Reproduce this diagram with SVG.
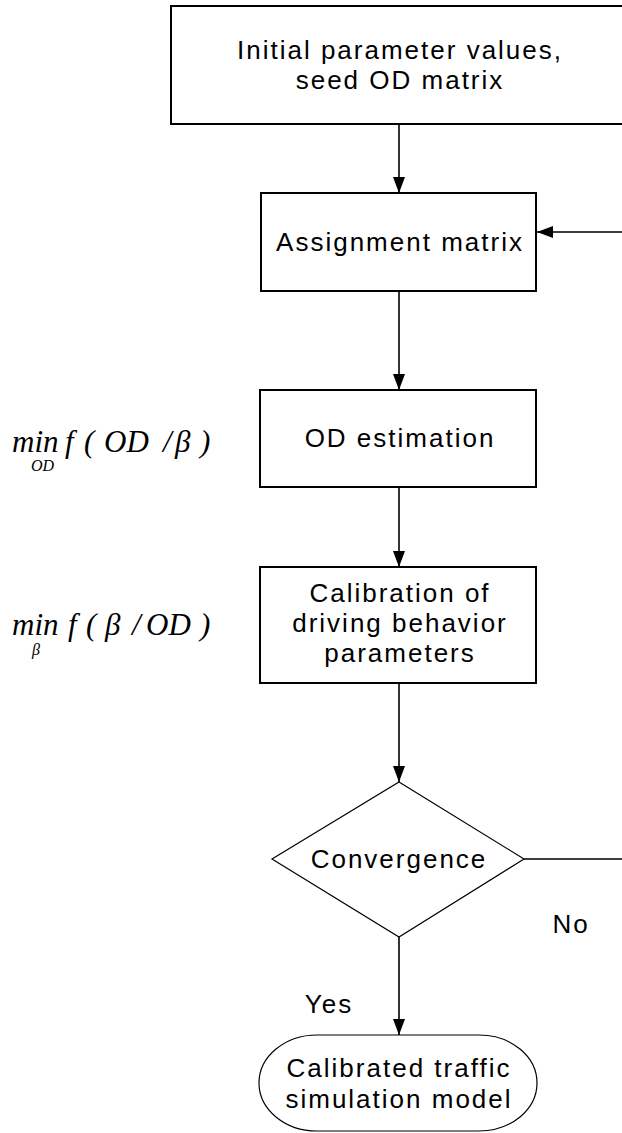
<svg xmlns="http://www.w3.org/2000/svg" width="622" height="1133" viewBox="0 0 622 1133">
  <style>
    .box { fill: #fff; stroke: #000; stroke-width: 2; }
    .thin { fill: #fff; stroke: #000; stroke-width: 1.2; }
    .lbl { font-family: "Liberation Sans", Arial, sans-serif; font-size: 26px; letter-spacing: 2px; fill: #000; text-anchor: middle; }
    .math { font-family: "Liberation Serif", "Times New Roman", serif; font-style: italic; font-size: 31px; fill: #000; }
    .sub { font-family: "Liberation Serif", "Times New Roman", serif; font-style: italic; font-size: 16px; fill: #000; }
    .conn { fill: none; stroke: #000; stroke-width: 1.6; }
  </style>
  <defs>
    <marker id="arrow" markerUnits="userSpaceOnUse" markerWidth="18" markerHeight="12" refX="16" refY="6" orient="auto">
      <path d="M0,0 L16,6 L0,12 Z" fill="#000"/>
    </marker>
  </defs>
  <rect width="622" height="1133" fill="#fff"/>

  <g id="connectors">
    <line class="conn" x1="399" y1="124" x2="399" y2="193" marker-end="url(#arrow)"/>
    <line class="conn" x1="399" y1="291" x2="399" y2="390" marker-end="url(#arrow)"/>
    <line class="conn" x1="399" y1="487" x2="399" y2="567" marker-end="url(#arrow)"/>
    <line class="conn" x1="399" y1="683" x2="399" y2="782" marker-end="url(#arrow)"/>
    <line class="conn" x1="399" y1="937" x2="399" y2="1035" marker-end="url(#arrow)"/>
    <path class="conn" d="M524,859 H640 V232 H537" marker-end="url(#arrow)"/>
  </g>

  <g id="start">
    <rect class="box" x="171" y="6" width="470" height="118"/>
    <text class="lbl" x="400" y="59">Initial parameter values,</text>
    <text class="lbl" x="400" y="89">seed OD matrix</text>
  </g>

  <g id="assignment">
    <rect class="box" x="261" y="193" width="275" height="98"/>
    <text class="lbl" x="400" y="251">Assignment matrix</text>
  </g>

  <g id="od-estimation">
    <rect class="box" x="260" y="390" width="276" height="97"/>
    <text class="lbl" x="400" y="447">OD estimation</text>
  </g>

  <g id="calibration">
    <rect class="box" x="260" y="567" width="276" height="116"/>
    <text class="lbl" x="400" y="602">Calibration of</text>
    <text class="lbl" x="400" y="632">driving behavior</text>
    <text class="lbl" x="400" y="662">parameters</text>
  </g>

  <g id="convergence">
    <polygon class="thin" points="399,782 524,859 399,937 272,859"/>
    <text class="lbl" x="399" y="868">Convergence</text>
  </g>

  <g id="result">
    <path class="thin" d="M317,1035 H479 A58,48 0 0 1 479,1131 H317 A58,48 0 0 1 317,1035 Z"/>
    <text class="lbl" x="399" y="1077">Calibrated traffic</text>
    <text class="lbl" x="399" y="1108">simulation model</text>
  </g>

  <g id="branch-labels">
    <text class="lbl" x="571" y="933">No</text>
    <text class="lbl" x="329" y="1013">Yes</text>
  </g>

  <g id="objective-od">
    <text class="math" y="452"><tspan x="12">min</tspan><tspan x="65">f</tspan><tspan x="84">(</tspan><tspan x="104">OD</tspan><tspan x="163">/</tspan><tspan x="175">β</tspan><tspan x="200">)</tspan></text>
    <text class="sub" x="31" y="471">OD</text>
  </g>

  <g id="objective-beta">
    <text class="math" y="635"><tspan x="12">min</tspan><tspan x="68">f</tspan><tspan x="86">(</tspan><tspan x="105">β</tspan><tspan x="132">/</tspan><tspan x="146">OD</tspan><tspan x="200">)</tspan></text>
    <text class="sub" x="32" y="655">β</text>
  </g>
</svg>
